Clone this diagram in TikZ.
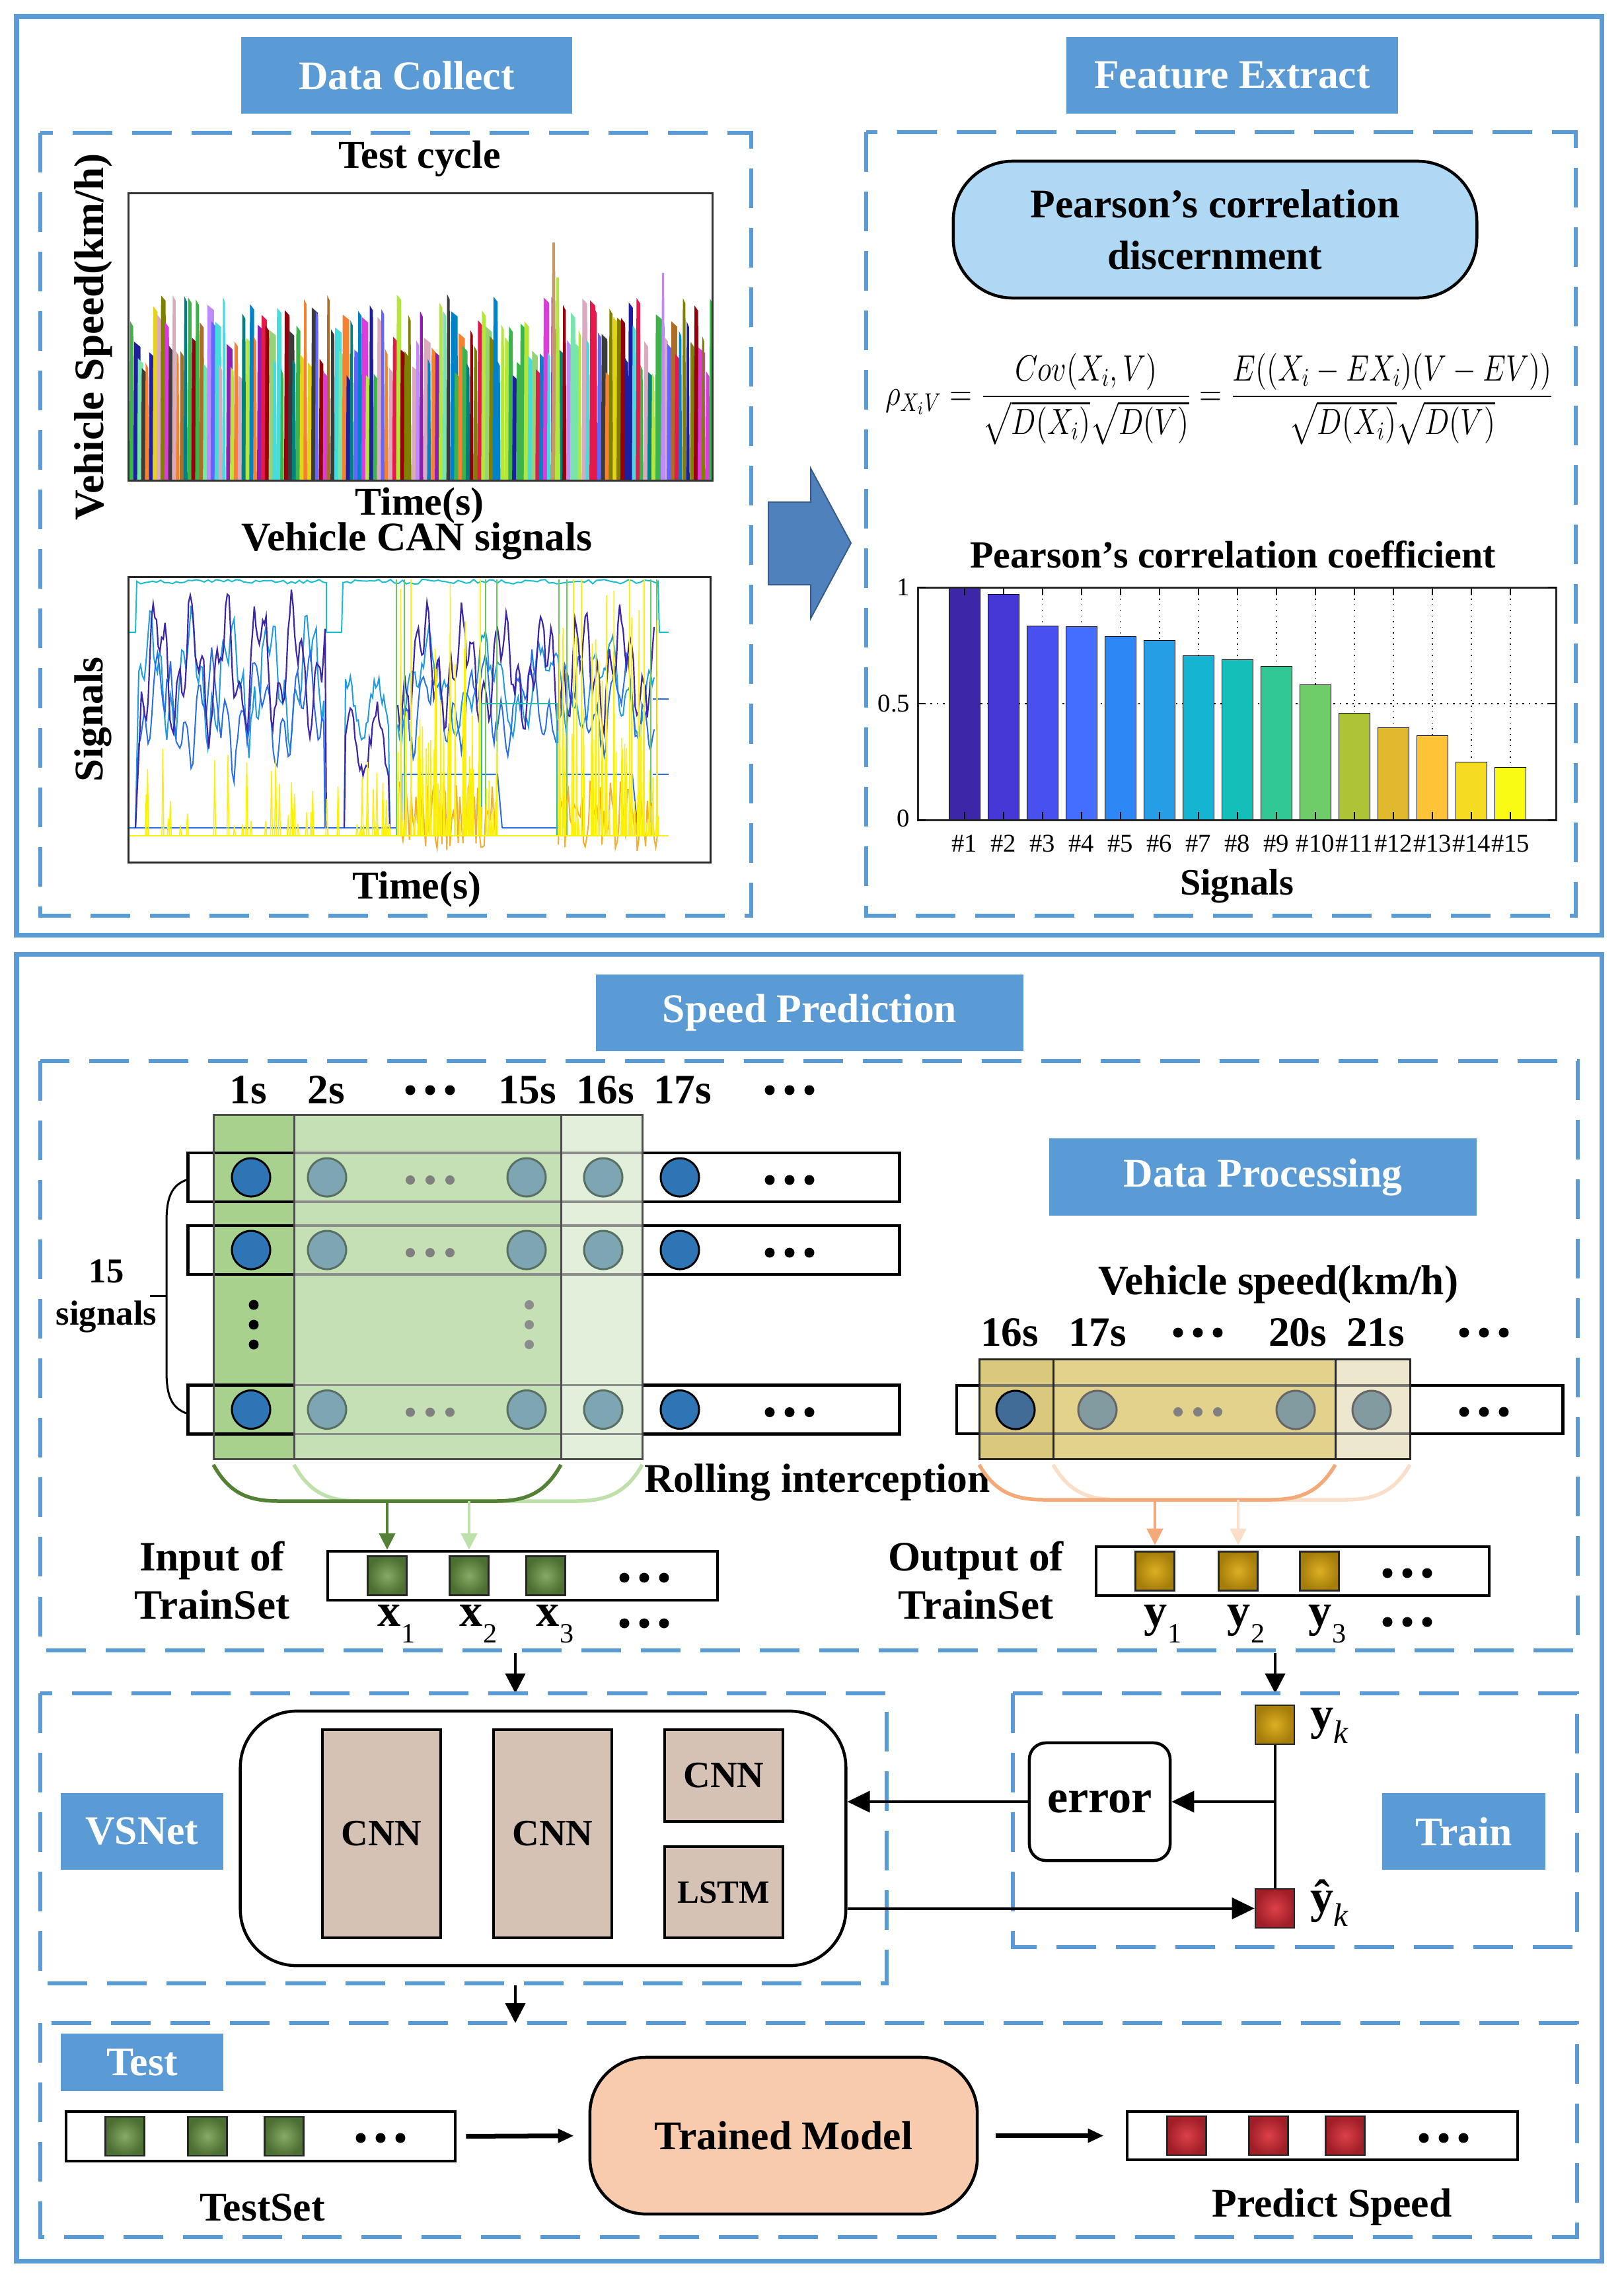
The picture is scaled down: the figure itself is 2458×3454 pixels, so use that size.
\RequirePackage{fix-cm}
\documentclass[tikz,border=0pt]{standalone}
\usepackage{amsmath}
\usepackage{graphicx}
\usepackage{fontspec}
\setmainfont{Liberation Serif}
\usetikzlibrary{arrows.meta,calc}

\definecolor{tblue}{RGB}{91,155,213}
\definecolor{ablue}{RGB}{79,129,189}
\definecolor{ablueD}{RGB}{56,93,138}
\definecolor{pbox}{RGB}{174,216,243}
\definecolor{cnnf}{RGB}{214,194,181}
\definecolor{tmf}{RGB}{248,203,173}
\definecolor{gA}{RGB}{169,209,142}
\definecolor{gB}{RGB}{197,224,180}
\definecolor{gC}{RGB}{226,239,218}
\definecolor{yA}{RGB}{218,200,125}
\definecolor{yB}{RGB}{226,210,140}
\definecolor{yC}{RGB}{237,231,206}
\definecolor{cdark}{RGB}{46,117,182}
\definecolor{cfade}{RGB}{125,165,178}
\definecolor{cfadeB}{RGB}{88,112,100}
\definecolor{cyel}{RGB}{66,108,152}
\definecolor{cyfade}{RGB}{130,155,160}
\definecolor{gcurveD}{RGB}{84,130,53}
\definecolor{gcurveL}{RGB}{190,224,170}
\definecolor{ocurveD}{RGB}{244,170,120}
\definecolor{ocurveL}{RGB}{250,222,200}
\definecolor{gsqI}{RGB}{135,170,100}
\definecolor{gsqO}{RGB}{75,110,50}
\definecolor{ysqI}{RGB}{220,175,35}
\definecolor{ysqO}{RGB}{165,125,10}
\definecolor{rsqI}{RGB}{220,65,70}
\definecolor{rsqO}{RGB}{160,30,40}
% bars (parula-like)
\definecolor{b1}{RGB}{62,38,168}
\definecolor{b2}{RGB}{70,56,215}
\definecolor{b3}{RGB}{72,80,240}
\definecolor{b4}{RGB}{67,110,255}
\definecolor{b5}{RGB}{45,135,245}
\definecolor{b6}{RGB}{38,158,230}
\definecolor{b7}{RGB}{20,180,210}
\definecolor{b8}{RGB}{20,190,185}
\definecolor{b9}{RGB}{50,200,150}
\definecolor{b10}{RGB}{110,205,105}
\definecolor{b11}{RGB}{175,195,55}
\definecolor{b12}{RGB}{225,185,45}
\definecolor{b13}{RGB}{255,195,55}
\definecolor{b14}{RGB}{245,220,35}
\definecolor{b15}{RGB}{249,251,20}
% spike palette
\definecolor{sp1}{RGB}{230,25,75}
\definecolor{sp2}{RGB}{60,180,75}
\definecolor{sp3}{RGB}{230,210,25}
\definecolor{sp4}{RGB}{0,130,200}
\definecolor{sp5}{RGB}{245,130,48}
\definecolor{sp6}{RGB}{145,30,180}
\definecolor{sp7}{RGB}{70,220,220}
\definecolor{sp8}{RGB}{220,60,220}
\definecolor{sp9}{RGB}{180,230,60}
\definecolor{sp10}{RGB}{220,170,190}
\definecolor{sp11}{RGB}{0,128,128}
\definecolor{sp12}{RGB}{170,110,40}
\definecolor{sp13}{RGB}{150,0,10}
\definecolor{sp14}{RGB}{120,230,170}
\definecolor{sp15}{RGB}{128,128,0}
\definecolor{sp16}{RGB}{30,30,160}
\definecolor{sp17}{RGB}{60,60,60}
\definecolor{sp18}{RGB}{150,210,120}
\definecolor{sp19}{RGB}{100,100,255}
\definecolor{sp20}{RGB}{190,140,250}
% CAN lines
\definecolor{cyL}{RGB}{23,190,207}
\definecolor{puL}{RGB}{62,38,168}
\definecolor{bl1}{RGB}{40,110,235}
\definecolor{bl2}{RGB}{30,155,225}
\definecolor{ylw}{RGB}{250,240,10}
\definecolor{orL}{RGB}{240,175,50}
\definecolor{grL}{RGB}{110,200,90}
\definecolor{teL}{RGB}{40,190,170}

\newcommand\lsub[1]{\raisebox{-0.35em}{\mdseries\fontsize{12}{12}\selectfont #1}}
\newcommand\ksub{\raisebox{-0.3em}{\mdseries\itshape\fontsize{14}{14}\selectfont k}}

\begin{document}
\begin{tikzpicture}[x=0.01cm,y=-0.01cm,
  outframe/.style={draw=tblue,line width=0.07cm},
  dbox/.style={draw=tblue,line width=0.06cm,dash pattern=on 0.6cm off 0.3cm},
  tb/.style={fill=tblue,text=white,font=\bfseries\fontsize{17.5}{21}\selectfont,inner sep=0pt,outer sep=0pt},
  bt/.style={font=\bfseries\fontsize{17.5}{21}\selectfont,inner sep=0pt,align=center},
  rowbox/.style={draw=black,line width=0.045cm,fill=white,inner sep=0pt},
  arr/.style={-{Triangle[length=0.34cm,width=0.32cm]},line width=0.04cm},
  arrS/.style={-{Triangle[length=0.3cm,width=0.3cm]},line width=0.04cm},
  tarr/.style={-{Triangle[length=0.24cm,width=0.2cm]},line width=0.07cm},
  sq/.style={minimum width=0.59cm,minimum height=0.59cm,inner sep=0pt,line width=0.025cm,draw=black!85},
  gsq/.style={sq,inner color=gsqI,outer color=gsqO},
  ysq/.style={sq,inner color=ysqI,outer color=ysqO},
  rsq/.style={sq,inner color=rsqI,outer color=rsqO},
  circD/.style={circle,minimum size=0.58cm,inner sep=0pt,fill=cdark,draw=black,line width=0.03cm},
  circF/.style={circle,minimum size=0.58cm,inner sep=0pt,fill=cfade,draw=cfadeB,line width=0.03cm},
  circY/.style={circle,minimum size=0.58cm,inner sep=0pt,fill=cyel,draw=black,line width=0.03cm},
  circYF/.style={circle,minimum size=0.58cm,inner sep=0pt,fill=cyfade,draw=black!60,line width=0.03cm},
  cnn/.style={draw=black,line width=0.045cm,fill=cnnf,minimum width=1.79cm,inner sep=0pt,font=\bfseries\fontsize{16}{18}\selectfont},
  ticklbl/.style={font=\fontsize{11}{13}\selectfont,inner sep=0pt}
]
\fill[white] (0,0) rectangle (2458,3454);
\useasboundingbox (0,0) rectangle (2458,3454);

% ================= TOP PART =================
\draw[outframe] (25,25) rectangle (2424,1415);
\node[tb,minimum width=5.01cm,minimum height=1.16cm] (tDC) at (615.5,114) {Data Collect};
\node[tb,minimum width=5.02cm,minimum height=1.16cm] (tFE) at (1865,114) {Feature Extract};
\draw[dbox] (61,201) rectangle (1137,1386);
\draw[dbox] (1311,200) rectangle (2385,1386);

% block arrow
\filldraw[fill=ablue,draw=ablueD,line width=0.02cm] (1163,760) -- (1227,760) -- (1227,709) -- (1288,822) -- (1227,936) -- (1227,885) -- (1163,885) -- cycle;

% ---- Test cycle chart ----
\node[bt,font=\bfseries\fontsize{17}{20}\selectfont] (ttc) at (635,240) {Test cycle};
\node[bt,rotate=90,font=\bfseries\fontsize{18}{20}\selectfont] (tvs) at (141,510) {Vehicle Speed(km/h)};
\node[bt,font=\bfseries\fontsize{17}{20}\selectfont] (tts1) at (635,765) {Time(s)};
\begin{scope}
\clip (195,293) rectangle (1077,726);
\pgfmathsetseed{42}
\foreach \i in {0,...,150}{
  \pgfmathsetmacro\xa{196+\i*5.85}
  \pgfmathsetmacro\wd{5+7*rnd}
  \pgfmathsetmacro\tp{445+125*rnd}
  \pgfmathrandominteger{\ci}{1}{20}
  \fill[sp\ci] (\xa,727) -- (\xa+1,\tp) -- (\xa+\wd-1,\tp+8) -- (\xa+\wd,727) -- cycle;
}
\fill[sp12!70] (834,727) -- (836,367) -- (840,367) -- (842,727) -- cycle;
\fill[sp9] (840,727) -- (842,420) -- (846,420) -- (848,727) -- cycle;
\fill[sp20] (1000,727) -- (1002,413) -- (1005,413) -- (1007,727) -- cycle;
\end{scope}
\draw[line width=0.03cm,black!80] (194,292) rectangle (1078,727);

% ---- CAN signals chart ----
\node[bt,font=\bfseries\fontsize{17.5}{20}\selectfont] (tcan) at (631,819) {Vehicle CAN signals};
\node[bt,rotate=90,font=\bfseries\fontsize{17.5}{20}\selectfont] (tsig) at (141,1089) {Signals};
\node[bt,font=\bfseries\fontsize{17}{20}\selectfont] (tts2) at (631,1346) {Time(s)};
\begin{scope}
\clip (195,874) rectangle (1074,1304);
\pgfmathsetseed{11}
\draw[bl1,line width=0.02cm] (196,1253) -- (600,1253);
\draw[bl1,line width=0.02cm] (760,1253) -- (845,1253);
% cyan top
\draw[cyL,line width=0.02cm] (196,957) -- (205,957) -- (207,880)
  \foreach \i in {1,...,47}{ -- ({207+\i*6},{877+7*rnd}) } -- (494,882) -- (494,957) -- (517,957) -- (519,882)
  \foreach \i in {1,...,79}{ -- ({519+\i*6},{877+7*rnd}) } -- (996,880) -- (998,957) -- (1012,957);
% segment 1
\draw[bl2,line width=0.02cm] (205,1253) -- plot[domain=210:490,samples=100] (\x,{1030+70*sin(6*(\x-200)+100)+35*sin(23*(\x-200))+30*rnd-15}) -- (492,1253);
\draw[bl1,line width=0.02cm] (205,1253) -- plot[domain=210:490,samples=100] (\x,{1080+50*sin(5*(\x-200)+40)+40*sin(17*(\x-200))+30*rnd-15}) -- (492,1253);
\draw[puL,line width=0.022cm] (205,1253) -- (212,1100) -- plot[domain=214:492,samples=110] (\x,{1010+70*sin(7*(\x-200))+45*sin(19*(\x-200)+30)+30*rnd-15}) -- (494,1253);
% segment 2
\draw[bl2,line width=0.02cm] (521,1253) -- plot[domain=523:588,samples=28] (\x,{1075+45*sin(8*(\x-500)+60)+30*rnd-15}) -- (590,1253);
\draw[puL,line width=0.022cm] (521,1253) -- plot[domain=523:588,samples=28] (\x,{1125+50*sin(9*(\x-500))+30*rnd-15}) -- (590,1253);
% segment 3
\draw[bl2,line width=0.02cm] plot[domain=602:990,samples=150] (\x,{1040+50*sin(4*(\x-600)+80)+30*sin(13*(\x-600))+30*rnd-15});
\draw[bl1,line width=0.02cm] plot[domain=602:990,samples=150] (\x,{1065+45*sin(5*(\x-600))+35*sin(15*(\x-600)+50)+30*rnd-15});
\draw[puL,line width=0.022cm] plot[domain=602:990,samples=150] (\x,{1010+55*sin(6*(\x-600)+20)+40*sin(21*(\x-600))+30*rnd-15});
\draw[bl1,line width=0.02cm] (608,1265) -- (608,1172) -- (753,1172) -- (760,1253);
\draw[bl1,line width=0.02cm] (847,1265) -- (847,1172) -- (957,1172) -- (965,1253);
\draw[teL,line width=0.02cm] (729,1265) -- (729,1065) -- (843,1065) -- (843,1265);
\draw[bl1,line width=0.02cm] (988,1058) -- (1012,1058) (988,1172) -- (1012,1172);
\foreach \gx in {600,612,735,752,846,858,985,994} \draw[grL,line width=0.015cm] (\gx,1265) -- (\gx,877);
% orange
\draw[orL,line width=0.02cm] plot[domain=605:750,samples=60] (\x,{1180+110*rnd});
\draw[orL,line width=0.02cm] plot[domain=845:995,samples=60] (\x,{1180+110*rnd});
% yellow
\draw[ylw,line width=0.025cm] (196,1265) -- (1012,1265);
\foreach \i in {1,...,40}{
  \pgfmathsetmacro\xs{205+390*rnd}
  \pgfmathsetmacro\r{rnd}
  \pgfmathsetmacro\hs{1265-15-150*\r*\r}
  \draw[ylw,line width=0.015cm] (\xs,1265) -- (\xs+1.5,\hs) -- (\xs+3,1265);
}
\foreach \i in {1,...,50}{
  \pgfmathsetmacro\xs{600+153*rnd}
  \pgfmathsetmacro\r{rnd}
  \pgfmathsetmacro\hs{1265-20-370*\r*\r}
  \draw[ylw,line width=0.015cm] (\xs,1265) -- (\xs+1,\hs) -- (\xs+2,1265);
}
\foreach \i in {1,...,50}{
  \pgfmathsetmacro\xs{843+153*rnd}
  \pgfmathsetmacro\r{rnd}
  \pgfmathsetmacro\hs{1265-20-370*\r*\r}
  \draw[ylw,line width=0.015cm] (\xs,1265) -- (\xs+1,\hs) -- (\xs+2,1265);
}
\foreach \gx in {622,727,868,880,953,975} \draw[ylw,line width=0.015cm] (\gx,1265) -- (\gx,877);
\end{scope}
\draw[line width=0.03cm,black!85] (194,873) rectangle (1075,1305);

% ---- Feature extract ----
\node[draw=black,line width=0.045cm,fill=pbox,rounded corners=0.9cm,minimum width=7.92cm,minimum height=2.07cm,bt,font=\bfseries\fontsize{17.5}{22}\selectfont] (pcd) at (1839,347.5) {Pearson's correlation\\discernment};
\node[inner sep=0pt,font=\fontsize{15}{18}\selectfont] (form) at (1846,604) {\scalebox{0.845}[1.05]{$\rho_{X_iV}=\dfrac{Cov(X_i,V)}{\sqrt{D(X_i)}\sqrt{D(V)}}=\dfrac{E((X_i-EX_i)(V-EV))}{\sqrt{D(X_i)}\sqrt{D(V)}}$}};

% ---- bar chart ----
\node[bt,font=\bfseries\fontsize{16.5}{19}\selectfont] (tpc) at (1866,839) {Pearson's correlation coefficient};
\draw[dotted,line width=0.025cm] (1389,1065) -- (2355,1065);
\foreach \i in {1,...,15} { \draw[dotted,line width=0.015cm] ({1459.5+(\i-1)*59.05},889) -- ({1459.5+(\i-1)*59.05},1241); }
\foreach \v [count=\i] in {1.0,0.971,0.835,0.831,0.787,0.770,0.707,0.688,0.660,0.581,0.459,0.397,0.363,0.249,0.226} {
  \pgfmathsetmacro\cx{1459.5+(\i-1)*59.05}
  \filldraw[fill=b\i,draw=black,line width=0.01cm] (\cx-23.5,1241) rectangle (\cx+23.5,{1241-\v*352});
  \draw[line width=0.02cm] (\cx,1241) -- (\cx,1229) (\cx,889) -- (\cx,901);
  \node[ticklbl] (xl\i) at (\cx,1277) {\#\i};
}
\draw[line width=0.03cm,black!85] (1389,889) rectangle (2355,1241);
\foreach \yy in {889,1065,1241} {\draw[line width=0.02cm] (1389,\yy) -- (1401,\yy) (2355,\yy) -- (2343,\yy);}
\node[ticklbl,anchor=east] (yl1) at (1378,889) {1};
\node[ticklbl,anchor=east] (yl2) at (1378,1065) {0.5};
\node[ticklbl,anchor=east] (yl3) at (1378,1239) {0};
\node[bt,font=\bfseries\fontsize{16}{18}\selectfont] (tsg) at (1872,1341) {Signals};

% ================= BOTTOM PART =================
\draw[outframe] (25,1444) rectangle (2424,3422);
\node[tb,minimum width=6.47cm,minimum height=1.16cm] (tSP) at (1225.5,1533) {Speed Prediction};
\draw[dbox] (61,1606) rectangle (2388,2498);
\node[tb,minimum width=6.47cm,minimum height=1.17cm] (tDP) at (1911.5,1781.5) {Data Processing};

% ---- left grid ----
\foreach \ry/\nm in {1782/r1,1892/r2,2133.5/r3}
  \node[rowbox,minimum width=10.76cm,minimum height=0.74cm] (\nm) at (823,\ry) {};
\fill[gA] (323,1687) rectangle (445,2208);
\fill[gB] (445,1687) rectangle (849,2208);
\fill[gC] (849,1687) rectangle (972,2208);
\foreach \ry in {1782,1892,2133.5} {
  \draw[line width=0.045cm] (323,\ry-37) -- (445,\ry-37) (323,\ry+37) -- (445,\ry+37);
  \draw[line width=0.035cm,black!45] (445,\ry-37) -- (972,\ry-37) (445,\ry+37) -- (972,\ry+37);
}
\draw[line width=0.03cm,black!70] (323,1687) rectangle (972,2208) (445,1687) -- (445,2208) (849,1687) -- (849,2208);
\foreach \ry [count=\k] in {1782,1892,2133.5} {
  \node[circD] (ca\k) at (380,\ry) {};
  \node[circF] (cb\k) at (495,\ry) {};
  \node[circF] (cc\k) at (797,\ry) {};
  \node[circF] (cd\k) at (913,\ry) {};
  \node[circD] (ce\k) at (1029,\ry) {};
  \foreach \dx in {621,651,681} \fill[black!50] (\dx,\ry+4) circle (7);
  \foreach \dx in {1165,1195,1225} \fill (\dx,\ry+4) circle (7.5);
}
\foreach \vy in {1975,2005,2035} { \fill (384,\vy) circle (7.5); \fill[black!45] (801,\vy) circle (7); }
\foreach \tx/\lab [count=\k] in {376/1s,494/2s,798/15s,916/16s,1033/17s}
  \node[bt,font=\bfseries\fontsize{18}{21}\selectfont] (tl\k) at (\tx,1650) {\lab};
\foreach \dx in {621,651,681,1165,1195,1225} \fill (\dx,1650) circle (7.5);
% brace
\draw[line width=0.03cm] (285,1785) .. controls (258,1793) and (252,1815) .. (252,1850) -- (252,2075) .. controls (252,2110) and (258,2132) .. (285,2140);
\draw[line width=0.03cm] (227,1961) -- (252,1961);
\node[bt,font=\bfseries\fontsize{15}{18}\selectfont] (l15) at (161,1962) {15\\signals};

% green curves
\draw[gcurveL,line width=0.055cm] (445,2217) .. controls (470,2262) and (500,2272) .. (545,2272) -- (870,2272) .. controls (915,2272) and (947,2262) .. (972,2217);
\draw[gcurveD,line width=0.055cm] (323,2217) .. controls (348,2262) and (378,2272) .. (423,2272) -- (749,2272) .. controls (794,2272) and (824,2262) .. (849,2217);
\coordinate (ga) at (586,2272);
\coordinate (gb) at (710,2272);

% input row
\node[rowbox,minimum width=5.9cm,minimum height=0.74cm] (inrow) at (791,2385) {};
\node[gsq] (xs1) at (586,2385) {};
\node[gsq] (xs2) at (710,2385) {};
\node[gsq] (xs3) at (826,2385) {};
\draw[gcurveD,line width=0.045cm,-{Triangle[length=0.25cm,width=0.24cm]}] (ga) -- (xs1 |- inrow.north);
\draw[gcurveL,line width=0.045cm,-{Triangle[length=0.25cm,width=0.24cm]}] (gb) -- (xs2 |- inrow.north);
\foreach \dx in {945,975,1005} {\fill (\dx,2388) circle (7.5); \fill (\dx,2457) circle (7.5);}
\node[bt,font=\bfseries\fontsize{20}{22}\selectfont] (lx1) at (600,2458) {x\lsub{1}};
\node[bt,font=\bfseries\fontsize{20}{22}\selectfont] (lx2) at (724,2458) {x\lsub{2}};
\node[bt,font=\bfseries\fontsize{20}{22}\selectfont] (lx3) at (840,2458) {x\lsub{3}};
\node[bt,font=\bfseries\fontsize{18}{21}\selectfont] (lin) at (321,2392) {Input of\\TrainSet};
\node[bt,font=\bfseries\fontsize{17.5}{21}\selectfont] (lroll) at (1237,2244) {Rolling interception};

% ---- speed row ----
\node[bt,font=\bfseries\fontsize{18}{21}\selectfont] (lvs) at (1935,1944) {Vehicle speed(km/h)};
\foreach \tx/\lab [count=\k] in {1528/16s,1661/17s,1964/20s,2082/21s}
  \node[bt,font=\bfseries\fontsize{18}{21}\selectfont] (ts\k) at (\tx,2017) {\lab};
\foreach \dx in {1783,1813,1843,2216,2246,2276} \fill (\dx,2017) circle (7.5);
\node[rowbox,minimum width=9.17cm,minimum height=0.73cm] (sprow) at (1906.5,2133.5) {};
\fill[yA] (1482,2057) rectangle (1594,2208);
\fill[yB] (1594,2057) rectangle (2021,2208);
\fill[yC] (2021,2057) rectangle (2134,2208);
\draw[line width=0.035cm,black!55] (1482,2097) -- (2134,2097) (1482,2170) -- (2134,2170);
\draw[line width=0.03cm,black!85] (1482,2057) rectangle (2134,2208) (1594,2057) -- (1594,2208) (2021,2057) -- (2021,2208);
\node[circY] (s1) at (1537,2134) {};
\node[circYF] (s2) at (1661,2134) {};
\node[circYF] (s3) at (1961,2134) {};
\node[circYF] (s4) at (2076,2134) {};
\foreach \dx in {1783,1813,1843} \fill[black!50] (\dx,2137) circle (7);
\foreach \dx in {2216,2246,2276} \fill (\dx,2137) circle (7.5);

% orange curves
\draw[ocurveL,line width=0.055cm] (1594,2217) .. controls (1619,2260) and (1649,2270) .. (1694,2270) -- (2034,2270) .. controls (2079,2270) and (2109,2260) .. (2134,2217);
\draw[ocurveD,line width=0.055cm] (1482,2217) .. controls (1507,2260) and (1537,2270) .. (1582,2270) -- (1921,2270) .. controls (1966,2270) and (1996,2260) .. (2021,2217);
\coordinate (oa) at (1748,2270);
\coordinate (ob) at (1874,2270);
\node[rowbox,minimum width=5.95cm,minimum height=0.74cm] (outrow) at (1956.5,2378) {};
\node[ysq] (ys1) at (1748,2378) {};
\node[ysq] (ys2) at (1874,2378) {};
\node[ysq] (ys3) at (1997,2378) {};
\draw[ocurveD,line width=0.045cm,-{Triangle[length=0.25cm,width=0.24cm]}] (oa) -- (ys1 |- outrow.north);
\draw[ocurveL,line width=0.045cm,-{Triangle[length=0.25cm,width=0.24cm]}] (ob) -- (ys2 |- outrow.north);
\foreach \dx in {2100,2130,2160} {\fill (\dx,2381) circle (7.5); \fill (\dx,2455) circle (7.5);}
\node[bt,font=\bfseries\fontsize{20}{22}\selectfont] (ly1) at (1760,2458) {y\lsub{1}};
\node[bt,font=\bfseries\fontsize{20}{22}\selectfont] (ly2) at (1886,2458) {y\lsub{2}};
\node[bt,font=\bfseries\fontsize{20}{22}\selectfont] (ly3) at (2009,2458) {y\lsub{3}};
\node[bt,font=\bfseries\fontsize{18}{21}\selectfont] (lout) at (1477,2392) {Output of\\TrainSet};

% ---- connections between boxes ----
\coordinate (dpb) at (780,2502);
\coordinate (vst) at (780,2563);
\draw[arrS] (dpb) -- (vst);
\coordinate (dpb2) at (1930,2502);
\coordinate (trt) at (1930,2563);
\draw[arrS] (dpb2) -- (trt);

% ---- VSNet ----
\draw[dbox] (61,2563) rectangle (1342,3002);
\draw[dbox] (1533,2563) rectangle (2387,2947);
\node[tb,minimum width=2.46cm,minimum height=1.16cm] (tVS) at (215,2772) {VSNet};
\node[draw=black,line width=0.045cm,fill=white,rounded corners=0.85cm,minimum width=9.16cm,minimum height=3.85cm] (vsnet) at (822,2782.5) {};
\node[cnn,minimum height=3.15cm] (cnn1) at (577.5,2775.5) {CNN};
\node[cnn,minimum height=3.15cm] (cnn2) at (836.5,2775.5) {CNN};
\node[cnn,minimum height=1.39cm] (cnn3) at (1095.5,2687.5) {CNN};
\node[cnn,minimum height=1.38cm,font=\bfseries\fontsize{14}{16}\selectfont] (lstm) at (1095.5,2864) {LSTM};

% ---- Train ----
\node[tb,minimum width=2.47cm,minimum height=1.16cm] (tTR) at (2215.5,2772) {Train};
\node[draw=black,line width=0.045cm,fill=white,rounded corners=0.25cm,minimum width=2.13cm,minimum height=1.78cm,bt,font=\bfseries\fontsize{20}{22}\selectfont] (err) at (1664.5,2727) {error};
\node[ysq] (yk) at (1929.5,2610.5) {};
\node[rsq] (yh) at (1929.5,2888.5) {};
\draw[line width=0.04cm] (yk.south) -- (yh.north);
\coordinate (br) at (1929.5,2727);
\draw[arr] (br) -- (err.east);
\draw[arr] (err.west) -- (err.west -| vsnet.east);
\draw[arr] (yh.west -| vsnet.east) -- (yh.west);
\node[bt,font=\bfseries\fontsize{20}{22}\selectfont] (lyk) at (2012,2612) {y\ksub};
\node[bt,font=\bfseries\fontsize{20}{22}\selectfont] (lyh) at (2012,2880) {\^{y}\ksub};

% ---- Test ----
\coordinate (vsb) at (780,3005);
\coordinate (tet) at (780,3062);
\draw[arrS] (vsb) -- (tet);
\draw[dbox] (61,3062) rectangle (2387,3386);
\node[tb,minimum width=2.46cm,minimum height=0.87cm] (tTE) at (215,3121.5) {Test};
\node[rowbox,minimum width=5.89cm,minimum height=0.75cm] (tsrow) at (394.5,3233.5) {};
\node[gsq] (ts1) at (189,3233.5) {};
\node[gsq] (ts2) at (314,3233.5) {};
\node[gsq] (ts3) at (430,3233.5) {};
\foreach \dx in {546,576,606} \fill (\dx,3236) circle (7.5);
\node[bt] (lts) at (397,3341) {TestSet};
\node[draw=black,line width=0.045cm,fill=tmf,rounded corners=0.85cm,minimum width=5.86cm,minimum height=2.37cm,bt] (tm) at (1186,3232.5) {Trained Model};
\node[rowbox,minimum width=5.91cm,minimum height=0.73cm] (prow) at (2001.5,3232.5) {};
\node[rsq] (ps1) at (1796,3232.5) {};
\node[rsq] (ps2) at (1920,3232.5) {};
\node[rsq] (ps3) at (2036,3232.5) {};
\foreach \dx in {2155,2185,2215} \fill (\dx,3236) circle (7.5);
\node[bt] (lps) at (2016,3341) {Predict Speed};
\draw[tarr,shorten <=0.14cm,shorten >=0.22cm] (tsrow.east) -- (tm.west);
\draw[tarr,shorten <=0.26cm,shorten >=0.33cm] (tm.east) -- (prow.west);
\end{tikzpicture}
\end{document}
